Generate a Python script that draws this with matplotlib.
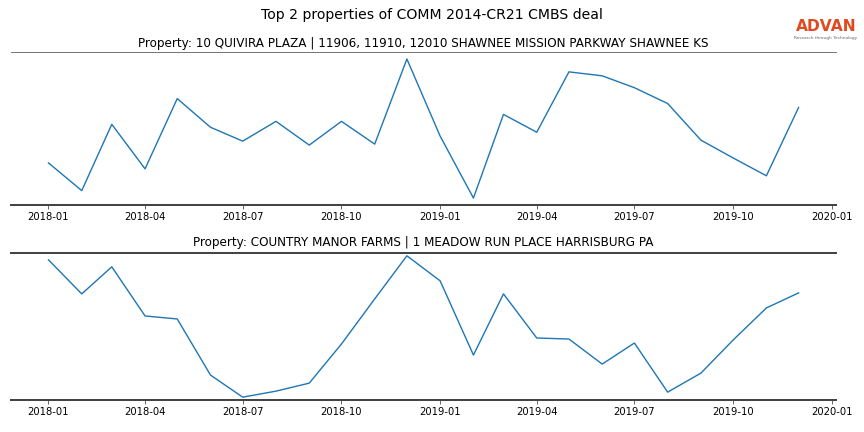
import pandas as pd
import matplotlib
matplotlib.use("Agg")
import matplotlib.pyplot as plt
import matplotlib.dates as mdates

# ---------------------------------------------- Daten ----------------------------------------------
months = pd.date_range("2018-01-01", "2019-12-01", freq="MS")

title_main = "Top 2 properties of COMM 2014-CR21 CMBS deal"
title_1 = "Property: 10 QUIVIRA PLAZA | 11906, 11910, 12010 SHAWNEE MISSION PARKWAY SHAWNEE KS"
title_2 = "Property: COUNTRY MANOR FARMS | 1 MEADOW RUN PLACE HARRISBURG PA"

# relative Werte (keine y-Achse im Original)
values_1 = [42, 14, 81, 36, 107, 78, 64, 84, 60, 84, 61, 147,
            69, 6.5, 91, 73, 134, 130, 118, 102, 65, 47, 29, 98]
values_2 = [140, 106, 133, 84, 81, 25, 3, 9, 17, 56, 101, 144,
            119, 45, 106, 62, 61, 36, 57, 8, 27, 60, 92, 107]

# ---------------------------------------------- Plot ----------------------------------------------
fig = plt.figure(figsize=(12, 6), dpi=72)
ax1 = fig.add_axes([0.0127, 0.5255, 0.955, 0.354])
ax2 = fig.add_axes([0.0127, 0.0741, 0.955, 0.3403])

for ax, vals, ttl, pad in [(ax1, values_1, title_1, 5), (ax2, values_2, title_2, 7)]:
    ax.plot(months, vals, color="#1f77b4", linewidth=1.4)
    ax.set_title(ttl, fontsize=12, pad=pad)
    ax.set_yticks([])
    ax.spines["left"].set_visible(False)
    ax.spines["right"].set_visible(False)
    ax.spines["bottom"].set_linewidth(2)
    ax.spines["bottom"].set_color("#444444")
    ax.spines["top"].set_linewidth(2)
    ax.spines["top"].set_color("#444444")
    ax.xaxis.set_major_locator(mdates.MonthLocator(bymonth=[1, 4, 7, 10]))
    ax.xaxis.set_major_formatter(mdates.DateFormatter("%Y-%m"))
    ax.tick_params(axis="x", labelsize=10, length=4, width=0.8, color="#444444")

ax1.spines["top"].set_linewidth(0.8)
ax1.spines["top"].set_color("#555555")
ax2.margins(y=0.02)

fig.suptitle(title_main, fontsize=14, y=0.982)

# Logo
fig.text(0.956, 0.928, "ADVAN", fontsize=15.5, weight="bold",
         color="#e04a1f", ha="center", va="baseline")
fig.text(0.956, 0.91, "Research through Technology", fontsize=4.2,
         color="#666666", ha="center", va="baseline")

plt.savefig("out.png", dpi=72)
